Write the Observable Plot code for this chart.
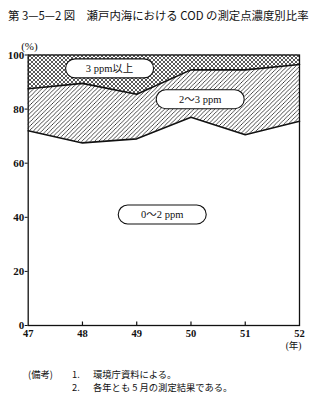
<!DOCTYPE html>
<html><head><meta charset="utf-8">
<script src="https://cdn.jsdelivr.net/npm/d3@7"></script>
<script src="https://cdn.jsdelivr.net/npm/@observablehq/plot@0.6"></script>
<style>
body{margin:0;background:#fff;}
#wrap{position:relative;width:316px;height:398px;color:#111;}
#title{position:absolute;left:8px;top:8px;font-size:11.4px;line-height:14px;white-space:nowrap;font-family:"Noto Sans CJK JP",sans-serif;}
#chart{position:absolute;left:0;top:30px;}
.note{position:absolute;font-size:9.3px;line-height:11px;white-space:nowrap;font-family:"Noto Sans CJK JP",sans-serif;}
</style></head><body>
<div id="wrap">
<div id="title">第 3—5—2 図　瀬戸内海における COD の測定点濃度別比率</div>
<div id="chart"></div>
<div class="note" style="left:28px;top:369px">(備考)</div>
<div class="note" style="left:72px;top:369px">1.</div>
<div class="note" style="left:93px;top:369px">環境庁資料による。</div>
<div class="note" style="left:72px;top:382px">2.</div>
<div class="note" style="left:93px;top:382px">各年とも 5 月の測定結果である。</div>
</div>
<script>
const years = [47, 48, 49, 50, 51, 52];
const share0to2 = [72, 67.5, 69, 77, 70.5, 75.5];
const share2to3 = [15.5, 22, 16.5, 17.5, 24, 21];
const share3plus = [12.5, 10.5, 14.5, 5.5, 5.5, 3.5];
const yTicks = [0, 20, 40, 60, 80, 100];
const bandNames = ["0〜2 ppm", "2〜3 ppm", "3 ppm以上"];

const table = years.map((year, i) => ({
  year,
  low: share0to2[i],
  mid: share0to2[i] + share2to3[i],
  top: share0to2[i] + share2to3[i] + share3plus[i]
}));

// annotation placement (data space)
const annotations = [
  {text: bandNames[0], x: 49.47, y: 41},
  {text: bandNames[1], x: 50.17, y: 83.6},
  {text: bandNames[2], x: 48.5, y: 95}
];

const ink = "#111";
const svg = Plot.plot({
  width: 316,
  height: 330,
  marginLeft: 27.7,
  marginRight: 17,
  marginTop: 24.5,
  marginBottom: 35,
  style: {fontFamily: "'Liberation Serif','Noto Sans CJK JP',serif", fontSize: "11px", color: ink, background: "white"},
  x: {domain: [47, 52]},
  y: {domain: [0, 100]},
  marks: [
    Plot.areaY(table, {x: "year", y1: "low", y2: "mid", fill: "url(#hatch)"}),
    Plot.areaY(table, {x: "year", y1: "mid", y2: "top", fill: "url(#cross)"}),
    Plot.lineY(table, {x: "year", y: "low", stroke: ink, strokeWidth: 1.6}),
    Plot.lineY(table, {x: "year", y: "mid", stroke: ink, strokeWidth: 1.6}),
    Plot.frame({stroke: ink, strokeWidth: 1.3}),
    Plot.ruleX(years.slice(1, -1), {y1: 0, y2: 1.3, stroke: ink, strokeWidth: 1.2}),
    Plot.axisY({ticks: yTicks, tickSize: 3, tickPadding: 1, label: null, fontSize: 11, fontWeight: "bold"}),
    Plot.axisX({ticks: years, tickSize: 0, tickPadding: 4, label: null, fontSize: 10.5, fontWeight: "bold", tickFormat: d => String(d)}),
    Plot.text(["(%)"], {frameAnchor: "top-left", dx: -7, dy: -13, fontSize: 11}),
    Plot.text(["(年)"], {frameAnchor: "bottom-right", dx: 2, dy: 23, fontSize: 9.5}),
    Plot.text(annotations, {x: "x", y: "y", text: "text", fontSize: 10.5, className: "pill", fill: ink})
  ]
});

d3.select(svg).insert("defs", ":first-child").html(`
  <pattern id="hatch" patternUnits="userSpaceOnUse" width="4.2" height="4.2">
    <path d="M-1,1 L1,-1 M0,4.2 L4.2,0 M3.2,5.2 L5.2,3.2" stroke="${ink}" stroke-width="0.75"/>
  </pattern>
  <pattern id="cross" patternUnits="userSpaceOnUse" width="4" height="4">
    <path d="M0,4 L4,0 M-1,1 L1,-1 M3,5 L5,3 M0,0 L4,4 M-1,3 L1,5 M3,-1 L5,1" stroke="${ink}" stroke-width="0.7"/>
  </pattern>`);

document.getElementById("chart").appendChild(svg);

d3.select(svg).selectAll(".pill text").each(function() {
  const b = this.getBBox();
  const cx = b.x + b.width / 2, cy = b.y + b.height / 2;
  const w = 88, h = 19;
  const r = document.createElementNS("http://www.w3.org/2000/svg", "rect");
  const t = this.getAttribute("transform");
  if (t) r.setAttribute("transform", t);
  r.setAttribute("x", cx - w / 2);
  r.setAttribute("y", cy - h / 2);
  r.setAttribute("width", w);
  r.setAttribute("height", h);
  r.setAttribute("rx", h / 2);
  r.setAttribute("fill", "white");
  r.setAttribute("stroke", ink);
  r.setAttribute("stroke-width", 1.1);
  this.parentNode.insertBefore(r, this);
});
</script>
</body></html>
